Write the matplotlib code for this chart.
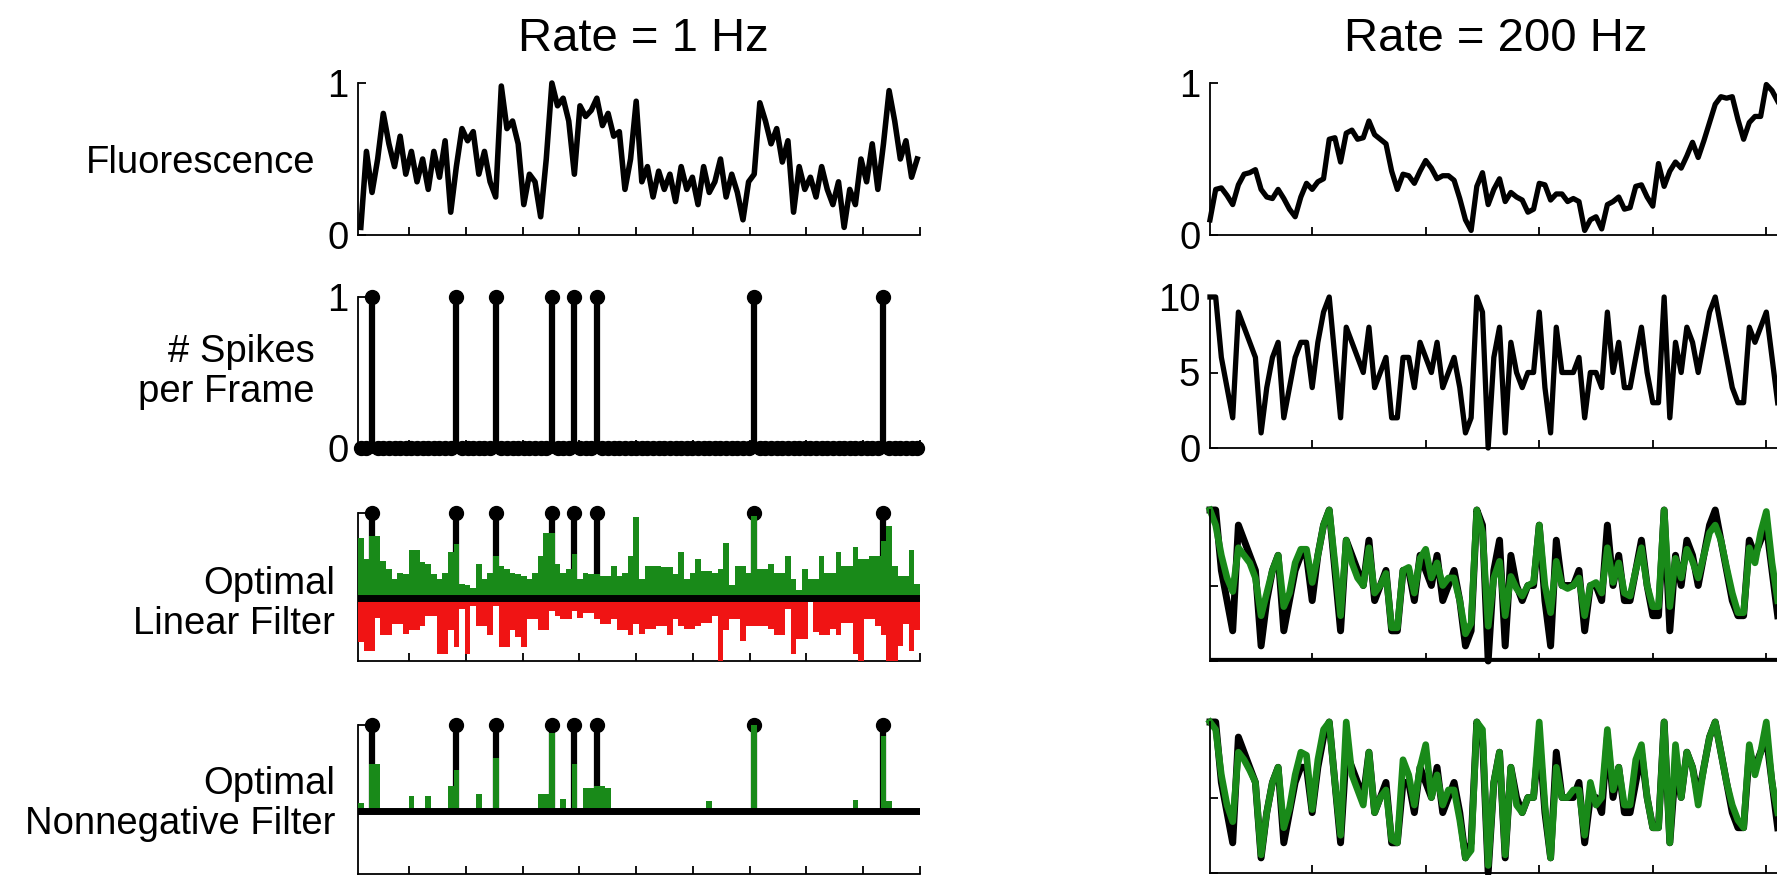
import numpy as np
import matplotlib
matplotlib.use('Agg')
import matplotlib.pyplot as plt

plt.rcParams['font.family'] = ['Liberation Sans', 'DejaVu Sans']

# ------------------------------------------------------------------ data
titles = ['Rate = 1 Hz', 'Rate = 200 Hz']
row_labels = ['Fluorescence', '# Spikes\nper Frame',
              'Optimal\nLinear Filter', 'Optimal\nNonnegative Filter']

# ---- Rate = 1 Hz (100 frames) ----
fluor_1hz = [0.05, 0.55, 0.28, 0.50, 0.80, 0.60, 0.45, 0.65, 0.40, 0.55,
             0.35, 0.50, 0.30, 0.55, 0.38, 0.62, 0.15, 0.45, 0.70, 0.62,
             0.68, 0.40, 0.55, 0.35, 0.25, 0.98, 0.70, 0.75, 0.60, 0.20,
             0.40, 0.35, 0.12, 0.50, 1.00, 0.85, 0.90, 0.75, 0.40, 0.85,
             0.78, 0.82, 0.90, 0.72, 0.80, 0.65, 0.68, 0.30, 0.50, 0.88,
             0.35, 0.45, 0.25, 0.42, 0.30, 0.40, 0.22, 0.45, 0.30, 0.38,
             0.20, 0.45, 0.28, 0.35, 0.50, 0.25, 0.40, 0.28, 0.10, 0.35,
             0.40, 0.87, 0.75, 0.60, 0.70, 0.48, 0.62, 0.15, 0.45, 0.30,
             0.38, 0.25, 0.45, 0.30, 0.20, 0.35, 0.05, 0.30, 0.20, 0.50,
             0.35, 0.60, 0.30, 0.60, 0.95, 0.75, 0.50, 0.62, 0.38, 0.50]

spike_bins_1hz = [2, 17, 24, 34, 38, 42, 70, 93]

linear_pos_1hz = [0.71, 0.46, 0.73, 0.73, 0.44, 0.34, 0.22, 0.30, 0.28, 0.56,
                  0.56, 0.42, 0.40, 0.28, 0.22, 0.30, 0.54, 0.63, 0.16, 0.15,
                  0.12, 0.40, 0.22, 0.30, 0.50, 0.38, 0.34, 0.30, 0.28, 0.26,
                  0.22, 0.30, 0.50, 0.77, 0.77, 0.40, 0.30, 0.34, 0.52, 0.22,
                  0.30, 0.28, 0.28, 0.26, 0.26, 0.38, 0.26, 0.30, 0.50, 0.95,
                  0.22, 0.38, 0.38, 0.38, 0.36, 0.36, 0.28, 0.54, 0.22, 0.30,
                  0.46, 0.32, 0.32, 0.30, 0.34, 0.65, 0.15, 0.38, 0.38, 0.30,
                  0.97, 0.34, 0.34, 0.40, 0.30, 0.30, 0.50, 0.22, 0.10, 0.34,
                  0.22, 0.22, 0.50, 0.30, 0.30, 0.54, 0.38, 0.38, 0.60, 0.46,
                  0.46, 0.50, 0.50, 0.67, 0.85, 0.38, 0.26, 0.26, 0.56, 0.16]

linear_neg_1hz = [-0.52, -0.62, -0.62, -0.23, -0.44, -0.44, -0.31, -0.31, -0.42, -0.38,
                  -0.38, -0.33, -0.21, -0.21, -0.66, -0.66, -0.38, -0.58, -0.13, -0.66,
                  -0.09, -0.33, -0.33, -0.44, -0.09, -0.58, -0.58, -0.38, -0.46, -0.58,
                  -0.25, -0.25, -0.38, -0.38, -0.15, -0.21, -0.25, -0.25, -0.15, -0.23,
                  -0.17, -0.17, -0.25, -0.31, -0.31, -0.25, -0.38, -0.38, -0.44, -0.31,
                  -0.42, -0.36, -0.36, -0.33, -0.33, -0.44, -0.25, -0.33, -0.36, -0.36,
                  -0.33, -0.29, -0.29, -0.21, -0.74, -0.38, -0.25, -0.25, -0.50, -0.33,
                  -0.33, -0.33, -0.33, -0.36, -0.44, -0.44, -0.13, -0.66, -0.48, -0.48,
                  -0.05, -0.40, -0.44, -0.44, -0.36, -0.44, -0.29, -0.29, -0.66, -0.74,
                  -0.25, -0.25, -0.33, -0.44, -0.74, -0.74, -0.56, -0.31, -0.62, -0.38]

nonneg_1hz = [0.09, 0.00, 0.54, 0.54, 0.00, 0.00, 0.00, 0.00, 0.00, 0.17,
              0.00, 0.00, 0.17, 0.00, 0.00, 0.00, 0.29, 0.48, 0.00, 0.00,
              0.00, 0.19, 0.00, 0.00, 0.62, 0.00, 0.00, 0.00, 0.00, 0.00,
              0.00, 0.00, 0.19, 0.19, 0.91, 0.00, 0.14, 0.00, 0.54, 0.00,
              0.27, 0.27, 0.29, 0.29, 0.27, 0.00, 0.00, 0.00, 0.00, 0.00,
              0.00, 0.00, 0.00, 0.00, 0.00, 0.00, 0.00, 0.00, 0.00, 0.00,
              0.00, 0.00, 0.11, 0.00, 0.00, 0.00, 0.00, 0.00, 0.00, 0.00,
              1.00, 0.00, 0.00, 0.00, 0.00, 0.00, 0.00, 0.00, 0.00, 0.00,
              0.00, 0.00, 0.00, 0.00, 0.00, 0.00, 0.00, 0.00, 0.13, 0.00,
              0.00, 0.00, 0.00, 0.87, 0.11, 0.00, 0.00, 0.00, 0.00, 0.00]

# ---- Rate = 200 Hz (visible part, 101 samples) ----
fluor_200hz = [0.10, 0.30, 0.31, 0.26, 0.20, 0.33, 0.40, 0.41, 0.43, 0.30,
               0.25, 0.24, 0.30, 0.24, 0.17, 0.12, 0.25, 0.34, 0.30, 0.35,
               0.37, 0.63, 0.64, 0.48, 0.67, 0.69, 0.63, 0.64, 0.75, 0.66,
               0.63, 0.60, 0.42, 0.30, 0.40, 0.39, 0.34, 0.42, 0.49, 0.44,
               0.37, 0.39, 0.39, 0.36, 0.24, 0.10, 0.03, 0.32, 0.41, 0.20,
               0.30, 0.37, 0.22, 0.28, 0.25, 0.23, 0.15, 0.17, 0.34, 0.33,
               0.23, 0.27, 0.27, 0.22, 0.24, 0.22, 0.03, 0.10, 0.12, 0.04,
               0.20, 0.22, 0.25, 0.17, 0.18, 0.32, 0.33, 0.25, 0.19, 0.47,
               0.32, 0.42, 0.48, 0.44, 0.52, 0.61, 0.51, 0.62, 0.74, 0.86,
               0.91, 0.90, 0.91, 0.76, 0.63, 0.74, 0.78, 0.78, 0.99, 0.95,
               0.88]

spikes_200hz = [10, 10, 6, 4, 2, 9, 8, 7, 6, 1,
                4, 6, 7, 2, 4, 6, 7, 7, 4, 7,
                9, 10, 6, 2, 8, 7, 6, 5, 8, 4,
                5, 6, 2, 2, 6, 6, 4, 7, 6, 5,
                7, 4, 5, 6, 4, 1, 2, 10, 9, 0,
                6, 8, 1, 7, 5, 4, 5, 5, 9, 4,
                1, 8, 5, 5, 5, 6, 2, 5, 5, 4,
                9, 5, 7, 4, 4, 6, 8, 5, 3, 3,
                10, 2, 7, 5, 8, 7, 5, 7, 9, 10,
                8, 6, 4, 3, 3, 8, 7, 8, 9, 6,
                3]

linear_200hz = [10.0, 9.0, 7.0, 5.5, 4.6, 7.5, 7.0, 6.5, 5.5, 3.0,
                4.5, 6.0, 7.0, 3.6, 4.5, 6.5, 7.4, 7.4, 5.2, 7.0,
                9.0, 10.0, 6.5, 3.0, 8.0, 6.5, 5.5, 5.0, 7.5, 4.5,
                5.0, 5.8, 2.2, 2.2, 6.0, 6.2, 4.5, 6.8, 7.4, 5.5,
                6.5, 5.0, 5.5, 5.5, 4.0, 1.8, 2.5, 10.0, 8.5, 2.3,
                5.5, 6.6, 3.0, 5.6, 4.8, 4.3, 5.0, 5.2, 9.0, 5.0,
                3.2, 6.6, 5.0, 4.8, 5.0, 5.5, 3.0, 5.0, 5.2, 4.5,
                7.5, 5.2, 6.5, 4.5, 4.3, 6.0, 7.5, 5.0, 3.6, 3.6,
                10.0, 3.6, 6.8, 5.5, 7.4, 6.6, 5.5, 7.0, 8.5, 9.0,
                8.0, 6.2, 4.5, 3.2, 3.2, 7.5, 6.5, 8.5, 9.9, 6.5,
                4.0]

nonneg_200hz = [10.0, 9.5, 6.5, 4.5, 3.4, 8.0, 7.5, 6.8, 6.0, 1.2,
                4.0, 6.0, 7.0, 3.0, 4.3, 6.5, 8.0, 7.8, 4.2, 7.5,
                9.5, 10.0, 6.0, 2.5, 10.0, 6.5, 5.5, 4.5, 8.0, 4.0,
                5.0, 5.5, 2.2, 2.0, 7.5, 6.5, 4.5, 7.0, 8.5, 5.0,
                6.5, 4.5, 5.5, 5.5, 3.5, 1.0, 1.5, 10.0, 9.5, 0.5,
                6.0, 8.0, 1.2, 7.0, 4.5, 4.0, 5.0, 5.0, 10.0, 4.5,
                1.0, 7.0, 5.0, 5.0, 5.5, 5.5, 2.5, 6.0, 4.5, 5.0,
                9.5, 5.5, 7.0, 4.5, 4.5, 7.5, 8.5, 5.0, 3.0, 3.0,
                10.0, 2.0, 8.5, 5.0, 8.0, 7.0, 4.5, 7.0, 9.0, 10.0,
                8.0, 6.0, 4.5, 3.5, 3.0, 8.5, 6.5, 8.0, 10.0, 6.0,
                4.0]

# ------------------------------------------------------------------ derived
n_frames = len(fluor_1hz)
edges_1hz = np.linspace(1, 100, n_frames + 1)
width_1hz = edges_1hz[1] - edges_1hz[0]
centers_1hz = edges_1hz[:-1] + width_1hz / 2
spike_x_1hz = centers_1hz[spike_bins_1hz]
n_1hz = np.zeros(n_frames)
n_1hz[spike_bins_1hz] = 1
t_200hz = 1 + 0.5 * np.arange(len(spikes_200hz))

GREEN = '#198a19'
RED = '#f01414'
FS = 27.5

W, H = 1777, 875
fig = plt.figure(figsize=(W / 100, H / 100), dpi=100)


def ax_at(left, top, right, bottom):
    return fig.add_axes([left / W, 1 - bottom / H, (right - left) / W, (bottom - top) / H])


def style(ax, yticks, ylabels, left_col=True):
    for s in ['top', 'right']:
        ax.spines[s].set_visible(False)
    for s in ['left', 'bottom']:
        ax.spines[s].set_linewidth(1.3)
    ax.tick_params(direction='in', length=6, width=1.3, labelsize=FS, pad=7)
    ax.set_yticks(yticks)
    ax.set_yticklabels(ylabels)
    if left_col:
        ax.set_xlim(1, 100)
        ax.set_xticks(np.arange(10, 101, 10))
    else:
        ax.set_xlim(1, 52)
        ax.set_xticks(np.arange(10, 51, 10))
    ax.set_xticklabels([])
    ax.patch.set_alpha(0)


LX0, LX1 = 358, 920
RX0 = 1210
RX1 = RX0 + (LX1 - LX0) / 99 * 2 * 51

# ---------------- left column
ax = ax_at(LX0, 83, LX1, 235)
ax.plot(centers_1hz, fluor_1hz, color='k', lw=4.0, clip_on=False)
ax.set_ylim(0, 1)
style(ax, [0, 1], ['0', '1'])

ax = ax_at(LX0, 297, LX1, 448)
ax.vlines(spike_x_1hz, 0, 1, color='k', lw=4.5)
zero_x = centers_1hz[n_1hz == 0]
ax.plot([zero_x.min(), zero_x.max()], [0, 0], color='k', lw=8.5,
        solid_capstyle='round', clip_on=False)
ax.plot(centers_1hz, n_1hz, 'o', color='k', ms=10, clip_on=False)
ax.set_ylim(0, 1)
style(ax, [0, 1], ['0', '1'])

for top, bottom, pos, neg in [(513, 661, linear_pos_1hz, linear_neg_1hz),
                              (725, 874, nonneg_1hz, None)]:
    ax = ax_at(LX0, top, LX1, bottom)
    ax.vlines(spike_x_1hz, 0, 1, color='k', lw=4.5, zorder=2)
    ax.plot(spike_x_1hz, np.ones(len(spike_x_1hz)), 'o', color='k', ms=10,
            clip_on=False, zorder=2)
    ax.bar(edges_1hz[:-1], pos, width=width_1hz, align='edge', color=GREEN,
           linewidth=0, zorder=3)
    if neg is not None:
        ax.bar(edges_1hz[:-1], neg, width=width_1hz, align='edge', color=RED,
               linewidth=0, zorder=3)
    ax.axhline(0, color='k', lw=5, zorder=4)
    ax.set_ylim(-0.74, 1)
    style(ax, [0, 1], ['', ''])

# ---------------- right column
ax = ax_at(RX0, 83, RX1, 235)
ax.plot(t_200hz, fluor_200hz, color='k', lw=3.8, clip_on=False)
ax.set_ylim(0, 1)
style(ax, [0, 1], ['0', '1'], left_col=False)

ax = ax_at(RX0, 297, RX1, 448)
ax.plot(t_200hz, spikes_200hz, color='k', lw=3.8, clip_on=False)
ax.set_ylim(0, 10)
style(ax, [0, 5, 10], ['0', '5', '10'], left_col=False)

ax = ax_at(RX0, 510, RX1, 661)
ax.plot(t_200hz, spikes_200hz, color='k', lw=5, clip_on=False)
ax.plot(t_200hz, linear_200hz, color=GREEN, lw=4.8, clip_on=False)
ax.axhline(0, color='k', lw=4.5, zorder=4)
ax.set_ylim(0, 10)
style(ax, [0, 5, 10], ['', '', ''], left_col=False)

ax = ax_at(RX0, 722, RX1, 873)
ax.plot(t_200hz, spikes_200hz, color='k', lw=5, clip_on=False)
ax.plot(t_200hz, nonneg_200hz, color=GREEN, lw=4.8, clip_on=False)
ax.set_ylim(0, 10)
style(ax, [0, 5, 10], ['', '', ''], left_col=False)

# ---------------- text
fig.text(643 / W, 1 - 51 / H, titles[0], ha='center', va='baseline', fontsize=34)
fig.text(1496 / W, 1 - 51 / H, titles[1], ha='center', va='baseline', fontsize=34)
fig.text(315 / W, 1 - 173 / H, row_labels[0], ha='right', va='baseline', fontsize=FS)
fig.text(315 / W, 1 - 372 / H, row_labels[1], ha='right', va='center', fontsize=FS,
         multialignment='right', linespacing=1.15)
fig.text(335 / W, 1 - 604 / H, row_labels[2], ha='right', va='center', fontsize=FS,
         multialignment='right', linespacing=1.15)
fig.text(335 / W, 1 - 804 / H, row_labels[3], ha='right', va='center', fontsize=FS,
         multialignment='right', linespacing=1.15)

fig.savefig('out.png', dpi=100)
